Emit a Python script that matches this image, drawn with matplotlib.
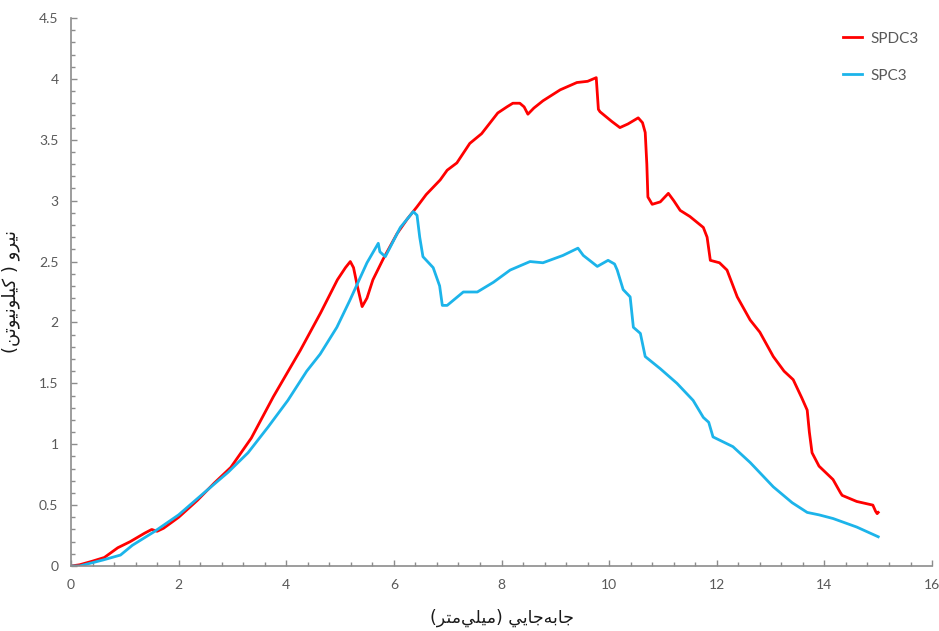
import matplotlib.pyplot as plt
from matplotlib.ticker import MultipleLocator

# SPDC3 (red)
spdc3_x = [0, 0.16, 0.4, 0.62, 0.87, 1.1, 1.37, 1.5, 1.6, 1.72, 2.0, 2.35, 2.66, 2.97,
           3.35, 3.76, 4.26, 4.64, 4.95, 5.1, 5.19, 5.25, 5.32, 5.41, 5.5, 5.61, 5.8,
           6.06, 6.25, 6.43, 6.6, 6.86, 6.99, 7.17, 7.41, 7.63, 7.93, 8.1, 8.21, 8.34,
           8.42, 8.49, 8.6, 8.77, 9.09, 9.4, 9.6, 9.76, 9.8, 9.83, 10.05, 10.2, 10.35,
           10.54, 10.62, 10.67, 10.7, 10.72, 10.8, 10.95, 11.1, 11.2, 11.32, 11.5,
           11.75, 11.82, 11.88, 12.05, 12.19, 12.38, 12.62, 12.8, 13.05, 13.25, 13.42,
           13.58, 13.68, 13.72, 13.77, 13.9, 14.16, 14.3, 14.33, 14.6, 14.9, 14.95,
           14.98, 15.0]
spdc3_y = [0, 0.01, 0.04, 0.07, 0.15, 0.2, 0.27, 0.3, 0.285, 0.31, 0.4, 0.54, 0.68, 0.81,
           1.05, 1.39, 1.77, 2.08, 2.35, 2.45, 2.5, 2.45, 2.3, 2.13, 2.2, 2.35, 2.52,
           2.73, 2.85, 2.95, 3.05, 3.17, 3.25, 3.31, 3.47, 3.55, 3.72, 3.77, 3.8, 3.8,
           3.77, 3.71, 3.76, 3.82, 3.91, 3.97, 3.98, 4.01, 3.75, 3.73, 3.65, 3.6, 3.63,
           3.68, 3.64, 3.56, 3.3, 3.03, 2.97, 2.99, 3.06, 3.0, 2.92, 2.87,
           2.78, 2.7, 2.51, 2.49, 2.43, 2.21, 2.02, 1.92, 1.72, 1.6, 1.53,
           1.38, 1.28, 1.1, 0.93, 0.82, 0.71, 0.6, 0.58, 0.53, 0.5, 0.45,
           0.43, 0.44]

# SPC3 (blue)
spc3_x = [0, 0.16, 0.6, 0.92, 1.14, 1.54, 2.0, 2.47, 2.92, 3.29, 3.66, 4.03, 4.38, 4.63,
          4.94, 5.18, 5.5, 5.71, 5.74, 5.84, 6.12, 6.36, 6.43, 6.48, 6.54, 6.73, 6.85,
          6.9, 6.99, 7.29, 7.55, 7.85, 8.16, 8.53, 8.77, 9.14, 9.42, 9.52, 9.78, 9.98,
          10.1, 10.15, 10.26, 10.39, 10.45, 10.58, 10.67, 10.95, 11.26, 11.56, 11.75,
          11.85, 11.93, 12.3, 12.62, 13.05, 13.4, 13.68, 13.9, 14.16, 14.6, 15.0]
spc3_y = [0, 0, 0.05, 0.09, 0.17, 0.28, 0.42, 0.6, 0.77, 0.93, 1.14, 1.36, 1.6, 1.74,
          1.96, 2.18, 2.49, 2.65, 2.58, 2.54, 2.78, 2.91, 2.88, 2.7, 2.54, 2.45, 2.3,
          2.14, 2.14, 2.25, 2.25, 2.33, 2.43, 2.5, 2.49, 2.55, 2.61, 2.55, 2.46, 2.51,
          2.48, 2.43, 2.27, 2.21, 1.96, 1.91, 1.72, 1.62, 1.5, 1.36, 1.22,
          1.18, 1.06, 0.98, 0.85, 0.65, 0.52, 0.44, 0.42, 0.39, 0.32, 0.24]

# Persian labels, pre-shaped (presentation forms, visual left-to-right order)
xlabel = ("(\ufeae\ufe98\ufee3\ufef2\ufee0\ufef4\ufee3) "
          "\ufef2\ufef3\ufe8e\ufe9f\ufeea\ufe91\ufe8e\ufe9f")
ylabel = ("(\ufee6\ufe97\ufeee\ufef4\ufee7\ufeee\ufee0\ufef4\ufedb ) "
          "\ufeed\ufeae\ufef4\ufee7")

plt.rcParams['font.family'] = ['Lato', 'DejaVu Sans']

fig = plt.figure(figsize=(9.39, 6.31), dpi=100)
ax = fig.add_axes([0.0756, 0.103, 0.917, 0.8685])

ax.plot(spdc3_x, spdc3_y, color='#ff0000', lw=2.0, label='SPDC3')
ax.plot(spc3_x, spc3_y, color='#1cb4ea', lw=2.0, label='SPC3')

ax.set_xlim(0, 16)
ax.set_ylim(0, 4.5)
ax.xaxis.set_major_locator(MultipleLocator(2))
ax.xaxis.set_minor_locator(MultipleLocator(0.4))
ax.yaxis.set_major_locator(MultipleLocator(0.5))
ax.yaxis.set_minor_locator(MultipleLocator(0.1))
ax.set_yticks([0, 0.5, 1, 1.5, 2, 2.5, 3, 3.5, 4, 4.5])
ax.set_yticklabels(['0', '0.5', '1', '1.5', '2', '2.5', '3', '3.5', '4', '4.5'])

for s in ['top', 'right']:
    ax.spines[s].set_visible(False)
for s in ['left', 'bottom']:
    ax.spines[s].set_color('#8c8c8c')
    ax.spines[s].set_linewidth(1.2)

ax.tick_params(which='both', direction='in', color='#8c8c8c', width=1.0,
               labelcolor='#595959', labelsize=10)
ax.tick_params(which='major', length=4, pad=9)
ax.tick_params(which='minor', length=3)

ax.set_xlabel(xlabel, fontsize=12.5, color='#1a1a1a', family=['DejaVu Sans'], labelpad=13)
ax.set_ylabel(ylabel, fontsize=13, color='#1a1a1a', family=['DejaVu Sans'], labelpad=14)

leg = ax.legend(loc='upper right', bbox_to_anchor=(1.0, 1.0), frameon=False,
                handlelength=1.3, handletextpad=0.5, labelspacing=1.5, fontsize=11)
for t in leg.get_texts():
    t.set_color('#595959')

fig.savefig('out.png', dpi=100)
